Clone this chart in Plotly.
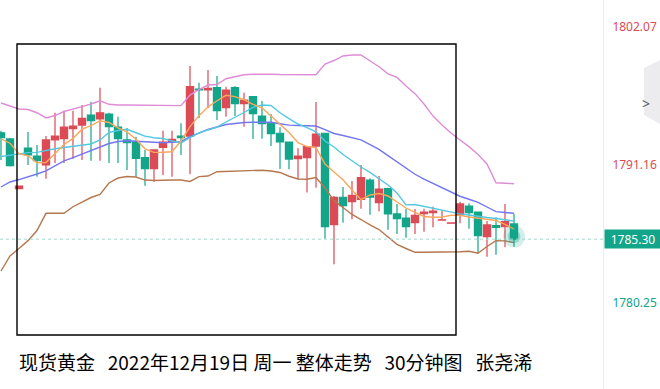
import plotly.graph_objects as go

# ---- data ----
opens = [1793.71, 1793.22, 1789.29, 1792.50, 1791.87, 1791.16, 1793.14, 1793.24, 1794.03, 1794.32,
         1795.11, 1794.80, 1795.19, 1794.16, 1793.14, 1793.00, 1791.74, 1790.87, 1792.56, 1792.95,
         1793.45, 1793.45, 1797.17, 1797.09, 1797.27, 1795.69, 1797.27, 1796.01, 1796.56, 1795.03,
         1794.46, 1793.67, 1792.98, 1791.66, 1791.74, 1792.66, 1793.67, 1786.44, 1788.61, 1788.26,
         1788.45, 1789.97, 1788.18, 1789.29, 1787.29, 1786.97, 1786.60, 1787.31, 1787.39, 1786.81,
         1786.56, 1787.21, 1787.92, 1787.44, 1785.49, 1786.36, 1786.28, 1786.50]
highs = [1793.87, 1793.30, 1789.52, 1793.77, 1792.74, 1793.45, 1795.29, 1795.45, 1795.45, 1795.90,
         1796.16, 1797.27, 1795.29, 1794.98, 1794.08, 1793.40, 1792.35, 1792.35, 1793.87, 1793.87,
         1794.46, 1798.99, 1797.67, 1798.67, 1798.20, 1797.35, 1797.40, 1796.88, 1796.61, 1796.22,
         1795.19, 1794.14, 1792.98, 1792.48, 1792.66, 1796.14, 1793.70, 1788.71, 1789.42, 1789.90,
         1791.16, 1790.11, 1790.29, 1789.37, 1788.08, 1787.68, 1787.68, 1787.71, 1787.86, 1787.55,
         1786.58, 1788.26, 1788.13, 1787.44, 1786.73, 1787.03, 1788.08, 1787.29]
lows = [1791.56, 1791.05, 1789.27, 1791.16, 1790.24, 1790.08, 1791.32, 1791.32, 1791.63, 1791.56,
        1791.50, 1791.50, 1791.32, 1791.32, 1790.76, 1790.24, 1789.52, 1789.84, 1790.37, 1790.24,
        1791.95, 1790.42, 1794.85, 1795.64, 1794.72, 1794.98, 1795.03, 1794.19, 1793.22, 1793.24,
        1792.66, 1790.84, 1790.82, 1790.03, 1788.99, 1789.37, 1785.33, 1783.31, 1786.60, 1786.87,
        1787.71, 1787.23, 1787.50, 1786.05, 1785.71, 1785.41, 1785.71, 1785.89, 1786.23, 1786.81,
        1786.56, 1786.55, 1786.12, 1784.18, 1783.91, 1784.07, 1784.65, 1784.70]
closes = [1793.32, 1791.10, 1789.50, 1791.95, 1791.50, 1793.14, 1793.45, 1794.16, 1794.24, 1794.85,
          1794.66, 1795.29, 1794.19, 1793.24, 1792.92, 1791.69, 1790.87, 1792.35, 1792.98, 1793.19,
          1793.32, 1797.35, 1797.09, 1797.22, 1795.45, 1797.09, 1796.01, 1796.30, 1795.22, 1794.42,
          1793.63, 1792.98, 1791.63, 1791.87, 1792.61, 1793.61, 1786.28, 1788.61, 1787.94, 1788.76,
          1790.16, 1788.61, 1789.26, 1787.29, 1786.92, 1786.28, 1787.18, 1787.44, 1787.52, 1786.83,
          1786.58, 1788.08, 1787.39, 1785.57, 1786.42, 1786.23, 1786.68, 1785.30]

boll_upper = [1796.06, 1795.82, 1795.59, 1795.55, 1795.29, 1794.88, 1795.07, 1795.39, 1795.56, 1795.78,
              1795.98, 1796.24, 1795.96, 1795.90, 1795.90, 1795.89, 1795.88, 1795.86, 1795.85, 1795.85,
              1795.85, 1796.69, 1797.12, 1797.48, 1797.52, 1797.98, 1798.15, 1798.29, 1798.34, 1798.35,
              1798.33, 1798.31, 1798.30, 1798.29, 1798.28, 1798.30, 1799.14, 1799.42, 1799.78, 1799.86,
              1799.86, 1799.41, 1798.93, 1798.37, 1798.08, 1797.41, 1796.80, 1795.98, 1795.03, 1794.32,
              1793.69, 1793.14, 1792.61, 1791.99, 1791.24, 1789.76, 1789.72, 1789.68]
boll_mid = [1789.42, 1789.82, 1790.01, 1790.21, 1790.45, 1790.69, 1791.08, 1791.48, 1791.75, 1792.03,
            1792.27, 1792.56, 1792.86, 1793.02, 1793.08, 1793.04, 1792.99, 1792.94, 1792.92, 1792.96,
            1793.00, 1793.40, 1793.67, 1793.97, 1794.16, 1794.36, 1794.44, 1794.52, 1794.54, 1794.54,
            1794.54, 1794.42, 1794.31, 1794.28, 1794.26, 1794.24, 1793.96, 1793.65, 1793.49, 1793.33,
            1793.15, 1792.77, 1792.39, 1791.90, 1791.40, 1790.91, 1790.43, 1790.04, 1789.71, 1789.38,
            1788.99, 1788.69, 1788.45, 1788.21, 1787.84, 1787.47, 1787.41, 1787.34]
boll_lower = [1782.78, 1783.97, 1784.56, 1785.18, 1785.98, 1787.34, 1787.34, 1787.34, 1787.86, 1788.24,
              1788.59, 1788.83, 1789.74, 1790.13, 1790.25, 1790.21, 1789.97, 1789.93, 1789.97, 1789.97,
              1789.97, 1789.86, 1790.24, 1790.29, 1790.63, 1790.65, 1790.67, 1790.69, 1790.73, 1790.75,
              1790.69, 1790.57, 1790.27, 1790.05, 1790.03, 1790.17, 1789.34, 1788.35, 1787.80, 1787.25,
              1786.85, 1786.42, 1786.06, 1785.49, 1784.89, 1784.56, 1784.26, 1784.26, 1784.26, 1784.26,
              1784.26, 1784.30, 1784.34, 1784.18, 1784.72, 1785.17, 1785.16, 1785.02]
ma_fast = [1793.22, 1792.88, 1792.05, 1791.89, 1791.34, 1791.36, 1792.07, 1792.78, 1793.26, 1793.99,
           1794.28, 1794.66, 1794.52, 1794.09, 1793.78, 1793.20, 1792.44, 1792.16, 1792.17, 1792.21,
           1793.06, 1794.19, 1795.06, 1795.75, 1796.24, 1796.67, 1796.57, 1796.32, 1795.96, 1795.67,
           1795.03, 1794.39, 1793.73, 1792.93, 1792.62, 1792.54, 1791.24, 1790.61, 1789.99, 1789.18,
           1788.43, 1788.79, 1788.91, 1788.71, 1788.20, 1787.76, 1787.42, 1787.09, 1787.03, 1787.04,
           1787.19, 1787.18, 1787.05, 1786.97, 1786.85, 1786.77, 1786.46, 1786.10]
ma_mid = [1791.83, 1791.93, 1792.03, 1792.14, 1792.16, 1792.33, 1792.44, 1792.54, 1792.62, 1792.70,
          1792.82, 1793.14, 1793.73, 1793.89, 1793.98, 1793.71, 1793.44, 1793.32, 1793.26, 1793.06,
          1792.90, 1793.33, 1793.69, 1793.93, 1794.15, 1794.56, 1794.92, 1795.31, 1795.72, 1795.90,
          1795.86, 1795.29, 1794.82, 1794.40, 1794.12, 1793.78, 1793.06, 1792.58, 1791.99, 1791.48,
          1791.00, 1790.57, 1790.08, 1789.58, 1788.95, 1788.01, 1788.04, 1787.90, 1787.72, 1787.62,
          1787.42, 1787.30, 1787.21, 1787.09, 1787.01, 1786.93, 1786.85, 1786.73]

tick_vals = [1802.07, 1791.16, 1780.25]
tick_colors = ["#dc4a55", "#dc4a55", "#12a58a"]
last_price = 1785.30
NB3 = "\u00a0\u00a0\u00a0"
title_text = f"现货黄金{NB3}2022年12月19日\u00a0周一\u00a0整体走势{NB3}30分钟图{NB3}张尧浠"

UP = "#dc4a55"
DOWN = "#12a58a"

idx = list(range(len(opens)))

fig = go.Figure()

line_specs = [
    (boll_upper, "#df8cd6"),
    (boll_lower, "#b5774f"),
    (boll_mid, "#7276ef"),
    (ma_mid, "#52c8e2"),
    (ma_fast, "#faa75b"),
]
for vals, col in line_specs:
    fig.add_trace(go.Scatter(x=idx, y=vals, mode="lines",
                             line=dict(color=col, width=1.4),
                             hoverinfo="skip", showlegend=False))

fig.add_trace(go.Candlestick(
    x=idx, open=opens, high=highs, low=lows, close=closes,
    increasing=dict(line=dict(color=UP, width=1.2), fillcolor=UP),
    decreasing=dict(line=dict(color=DOWN, width=1.2), fillcolor=DOWN),
    whiskerwidth=0, showlegend=False))

# glow at last price
fig.add_trace(go.Scatter(x=[idx[-1]], y=[closes[-1] + 0.2], mode="markers",
                         marker=dict(size=22, color="rgba(18,165,138,0.18)"),
                         hoverinfo="skip", showlegend=False))
fig.add_trace(go.Scatter(x=[idx[-1]], y=[closes[-1] + 0.2], mode="markers",
                         marker=dict(size=13, color="rgba(18,165,138,0.30)"),
                         hoverinfo="skip", showlegend=False))

W, H = 660, 389
PLOT_W = 603
x0 = -1 / 9
fig.update_layout(
    width=W, height=H,
    margin=dict(l=0, r=W - PLOT_W, t=0, b=0),
    paper_bgcolor="white", plot_bgcolor="white",
    boxgap=0.2, boxgroupgap=0,
    showlegend=False,
    xaxis=dict(range=[x0, x0 + PLOT_W / 9], visible=False, rangeslider=dict(visible=False),
               showgrid=False, fixedrange=True),
    yaxis=dict(range=[1773.452, 1804.204], side="right", showgrid=False, zeroline=False,
               showline=True, linecolor="#ececec", linewidth=1, ticks="",
               tickvals=tick_vals,
               ticktext=[f'<span style="color:{c}">{v:.2f}</span>' for v, c in zip(tick_vals, tick_colors)],
               tickfont=dict(family="Noto Sans", size=12),
               ticklabelstandoff=6, fixedrange=True),
)

# dashed last-price line
fig.add_shape(type="line", xref="paper", x0=0, x1=1, yref="y", y0=last_price, y1=last_price,
              line=dict(color="#9fd9ca", width=1, dash="3px,3px"))

# black frame drawn on the chart
fig.add_shape(type="rect", xref="paper", yref="paper",
              x0=17 / PLOT_W, x1=456 / PLOT_W, y0=1 - 335 / H, y1=1 - 44 / H,
              line=dict(color="black", width=1.4))

# last price tag
fig.add_annotation(xref="paper", yref="y", x=1, y=last_price, xanchor="left", yanchor="middle",
                   text=f"{last_price:.2f}", showarrow=False, bgcolor=DOWN,
                   font=dict(family="Noto Sans", size=12, color="white"),
                   width=56, height=18, borderpad=0, align="center", xshift=1)

# right side collapse tab
fig.add_shape(type="path", xref="paper", yref="paper",
              path=f"M {660/PLOT_W} {1-60/H} L {644/PLOT_W} {1-68/H} L {644/PLOT_W} {1-115/H} L {660/PLOT_W} {1-124/H} Z",
              fillcolor="#ececef", line=dict(width=0))
fig.add_annotation(xref="paper", yref="paper", x=652 / PLOT_W, y=1 - 92 / H, text="&gt;",
                   showarrow=False, font=dict(family="Noto Sans", size=14, color="#555a66"))

# title
fig.add_annotation(xref="paper", yref="paper", x=17 / PLOT_W, y=1 - 361 / H,
                   xanchor="left", yanchor="middle", text=title_text, showarrow=False,
                   font=dict(family="Noto Sans CJK SC", size=19, color="black"))

fig.write_html("out.html", config={"displayModeBar": False, "staticPlot": True},
               post_script="document.body.style.margin='0px';document.body.style.overflow='hidden';")
